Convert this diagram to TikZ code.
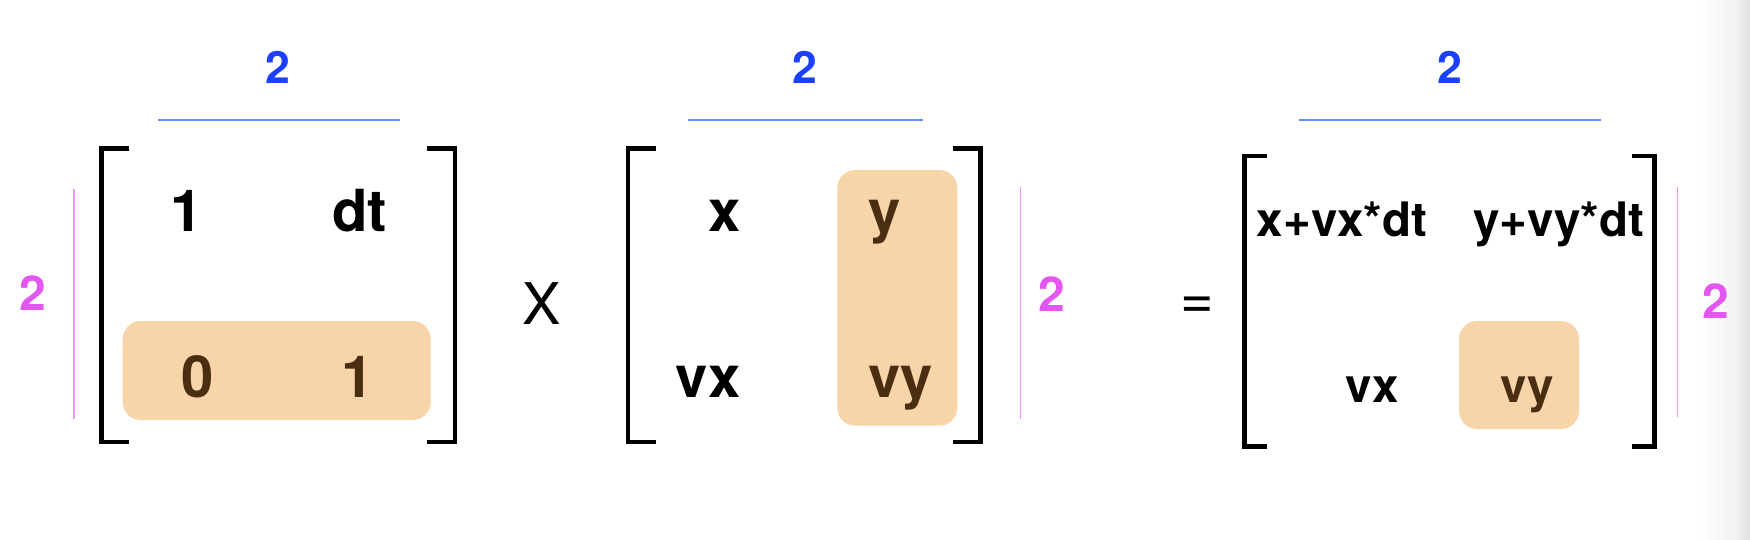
\documentclass[tikz,border=0pt]{standalone}
\usepackage{fontspec}
\setmainfont{TeX Gyre Heros}
\definecolor{dimblue}{RGB}{28,64,255}
\definecolor{dimbluel}{RGB}{105,135,255}
\definecolor{dimpink}{RGB}{228,86,240}
\definecolor{dimpinkl}{RGB}{240,150,250}
\definecolor{hlfill}{RGB}{247,213,168}
\definecolor{hltext}{RGB}{74,46,18}
\begin{document}
\begin{tikzpicture}[x=1pt,y=-1pt,
  entry/.style={font=\fontsize{58}{60}\selectfont\bfseries, inner sep=0pt, anchor=base},
  hlentry/.style={entry, text=hltext},
  sentry/.style={font=\fontsize{47.5}{50}\selectfont\bfseries, inner sep=0pt, anchor=base},
  shlentry/.style={sentry, text=hltext},
  optext/.style={font=\fontsize{57.5}{60}\selectfont, inner sep=0pt, anchor=base},
  topdim/.style={font=\fontsize{44.5}{46}\selectfont\bfseries, text=dimblue, inner sep=0pt, anchor=base},
  sidedim/.style={font=\fontsize{48}{50}\selectfont\bfseries, text=dimpink, inner sep=0pt, anchor=base},
  topline/.style={draw=dimbluel, line width=1.8pt},
  sideline/.style={draw=dimpinkl, line width=1.4pt},
  bracketline/.style={draw=black, line width=4.6pt, miter limit=10},
  hlbox/.style={fill=hlfill, rounded corners=18pt}
]
\useasboundingbox (0,0) rectangle (1750,540);
\fill[white] (0,0) rectangle (1750,540);
\shade[left color=white, right color=black!5, draw=none] (1700,0) rectangle (1736,540);
\shade[left color=black!5, right color=black!12, draw=none] (1736,0) rectangle (1750,540);

% highlight boxes
\fill[hlbox] (122.7,321) rectangle (430.7,420);
\fill[hlbox] (837.3,170) rectangle (957.3,425.7);
\fill[hlbox] (1459,321) rectangle (1579,429);

% brackets
\draw[bracketline] (129.3,148.7) -- (101.3,148.7) -- (101.3,442) -- (129.3,442);
\draw[bracketline] (427.3,148.7) -- (455,148.7) -- (455,442) -- (427.3,442);
\draw[bracketline] (655.7,148.7) -- (628,148.7) -- (628,442) -- (655.7,442);
\draw[bracketline] (952.7,148.7) -- (980.5,148.7) -- (980.5,442) -- (952.7,442);
\draw[bracketline] (1266.7,156.2) -- (1244.7,156.2) -- (1244.7,446.7) -- (1266.7,446.7);
\draw[bracketline] (1631.7,156.2) -- (1654.2,156.2) -- (1654.2,446.7) -- (1631.7,446.7);

% dimension lines
\coordinate (t1a) at (158.3,120); \coordinate (t1b) at (400,120);
\coordinate (t2a) at (688.3,120); \coordinate (t2b) at (923.3,120);
\coordinate (t3a) at (1299.3,120); \coordinate (t3b) at (1600.7,120);
\draw[topline] (t1a) -- (t1b);
\draw[topline] (t2a) -- (t2b);
\draw[topline] (t3a) -- (t3b);
\coordinate (s1a) at (74,189); \coordinate (s1b) at (74,419);
\coordinate (s2a) at (1020.7,187.3); \coordinate (s2b) at (1020.7,419);
\coordinate (s3a) at (1677.7,187.3); \coordinate (s3b) at (1677.7,416.7);
\draw[sideline] (s1a) -- (s1b);
\draw[sideline] (s2a) -- (s2b);
\draw[sideline] (s3a) -- (s3b);

% dimension labels
\node[topdim] (d1) at (278.3,83.3) {2};
\node[topdim] (d2) at (805,83.3) {2};
\node[topdim] (d3) at (1450.3,83.3) {2};
\node[sidedim] (p1) at (32.8,310.7) {2};
\node[sidedim] (p2) at (1052.2,311.7) {2};
\node[sidedim] (p3) at (1716.2,318.3) {2};

% left matrix
\node[entry] (a11) at (187,231.7) {1};
\node[entry] (a12) at (359.7,231.7) {dt};
\node[hlentry] (a21) at (197.5,397) {0};
\node[hlentry] (a22) at (358,397) {1};

% operator
\node[optext] (times) at (541.3,324) {X};

% middle matrix
\node[entry] (b11) at (724.2,231) {x};
\node[hlentry] (b12) at (884.3,231) {y};
\node[entry] (b21) at (708.2,397.3) {vx};
\node[hlentry] (b22) at (900.5,397.3) {vy};

% equals
\node[optext] (eq) at (1197,318) {=};

% result matrix
\node[sentry] (c11) at (1342,236.7) {x+vx*dt};
\node[sentry] (c12) at (1558.7,236.7) {y+vy*dt};
\node[sentry] (c21) at (1372.2,402.3) {vx};
\node[shlentry] (c22) at (1527,402.3) {vy};
\end{tikzpicture}
\end{document}
